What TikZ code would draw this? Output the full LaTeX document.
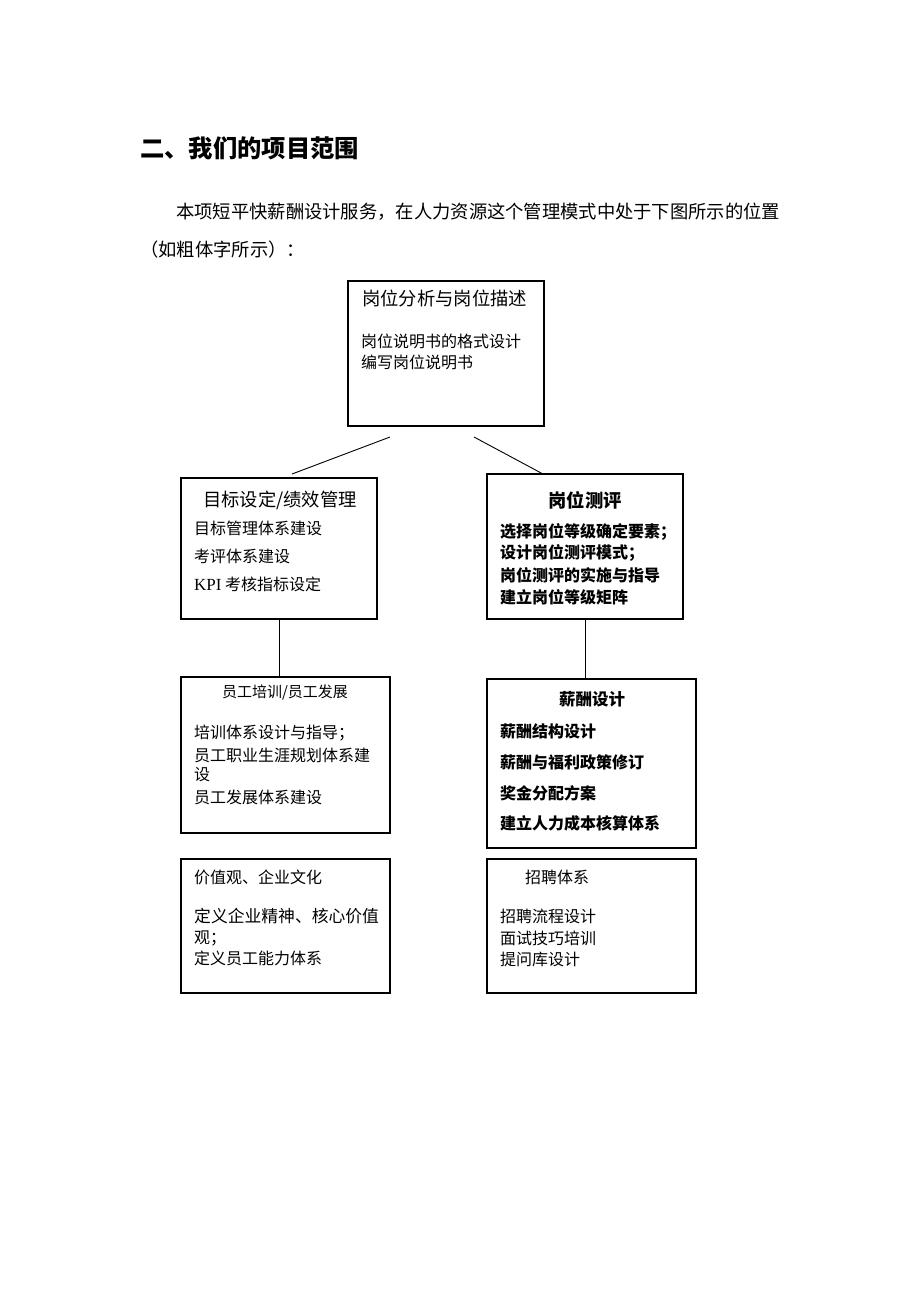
\documentclass[tikz,border=0pt]{standalone}
\usepackage{fontspec}
\setmainfont{Noto Sans CJK SC}
\newfontfamily\latinrm{Liberation Serif}
\usetikzlibrary{positioning}

\tikzset{
  box/.style={draw, line width=1.2pt, inner sep=0pt},
  txt/.style={anchor=west, inner sep=0pt, font=\fontsize{16}{16}\selectfont},
  head/.style={txt, font=\fontsize{18.3}{18.3}\selectfont},
  bhead/.style={txt, anchor=center, font=\fontsize{17}{17}\selectfont\bfseries},
  btxt/.style={txt, font=\fontsize{16}{16}\selectfont\bfseries},
  link/.style={draw, line width=0.9pt}
}

\begin{document}
\begin{tikzpicture}[x=1pt, y=-1pt]
\useasboundingbox (0,0) rectangle (920,1302);

% heading and intro
\node[txt, font=\fontsize{24.3}{24.3}\selectfont\bfseries] (title) at (140,148) {二、我们的项目范围};
\node[txt, font=\fontsize{18.3}{18.3}\selectfont] (intro1) at (176,212) {本项短平快薪酬设计服务，在人力资源这个管理模式中处于下图所示的位置};
\node[txt, font=\fontsize{18.3}{18.3}\selectfont] (intro2) at (140,250) {（如粗体字所示）：};

% boxes
\node[box, minimum width=196pt, minimum height=145pt] (jobana) at (446,353.5) {};
\node[box, minimum width=196pt, minimum height=141pt] (goal) at (279,548.5) {};
\node[box, minimum width=196pt, minimum height=145pt] (eval) at (585,546.5) {};
\node[box, minimum width=209pt, minimum height=156pt] (train) at (285.5,755) {};
\node[box, minimum width=209pt, minimum height=169pt] (pay) at (591.5,763.5) {};
\node[box, minimum width=209pt, minimum height=134pt] (culture) at (285.5,926) {};
\node[box, minimum width=209pt, minimum height=134pt] (hire) at (591.5,926) {};

% connectors
\coordinate (jl) at (390,437);
\coordinate (jr) at (474,437);
\coordinate (gl) at (292,474);
\coordinate (er) at (543,474);
\draw[link] (jl) -- (gl);
\draw[link] (jr) -- (er);
\draw[link] (goal.south) -- (goal.south |- train.north);
\draw[link] (eval.south) -- (eval.south |- pay.north);

% top box
\node[head] (jobanaT) at (362,299) {岗位分析与岗位描述};
\node[txt] (jobana1) at (361,341) {岗位说明书的格式设计};
\node[txt] (jobana2) at (361,362) {编写岗位说明书};

% goal box
\node[head, anchor=center] (goalT) at (280,500) {目标设定/绩效管理};
\node[txt] (goal1) at (194,528) {目标管理体系建设};
\node[txt] (goal2) at (194,556) {考评体系建设};
\node[txt] (goal3) at (194,584) {{\latinrm\fontsize{17}{17}\selectfont KPI} 考核指标设定};

% eval box
\node[bhead, font=\fontsize{18.3}{18.3}\selectfont\bfseries] (evalT) at (585,500) {岗位测评};
\node[btxt] (eval1) at (500,532) {选择岗位等级确定要素；};
\node[btxt] (eval2) at (500,553) {设计岗位测评模式；};
\node[btxt] (eval3) at (500,575) {岗位测评的实施与指导};
\node[btxt] (eval4) at (500,597) {建立岗位等级矩阵};

% train box
\node[txt, anchor=center, font=\fontsize{15}{15}\selectfont] (trainT) at (285,692) {员工培训/员工发展};
\node[txt] (train1) at (194,733) {培训体系设计与指导；};
\node[txt] (train2) at (194,755) {员工职业生涯规划体系建};
\node[txt] (train3) at (194,775) {设};
\node[txt] (train4) at (194,797) {员工发展体系建设};

% pay box
\node[bhead, font=\fontsize{16.5}{16.5}\selectfont\bfseries] (payT) at (592,699) {薪酬设计};
\node[btxt] (pay1) at (500,731) {薪酬结构设计};
\node[btxt] (pay2) at (500,762) {薪酬与福利政策修订};
\node[btxt] (pay3) at (500,793) {奖金分配方案};
\node[btxt] (pay4) at (500,823) {建立人力成本核算体系};

% culture box
\node[txt] (cultureT) at (194,877) {价值观、企业文化};
\node[txt, font=\fontsize{16.8}{16.8}\selectfont] (culture1) at (194,916) {定义企业精神、核心价值};
\node[txt] (culture2) at (194,938) {观；};
\node[txt] (culture3) at (194,958) {定义员工能力体系};

% hire box
\node[txt] (hireT) at (525,877) {招聘体系};
\node[txt] (hire1) at (500,916) {招聘流程设计};
\node[txt] (hire2) at (500,938) {面试技巧培训};
\node[txt] (hire3) at (500,959) {提问库设计};
\end{tikzpicture}
\end{document}
